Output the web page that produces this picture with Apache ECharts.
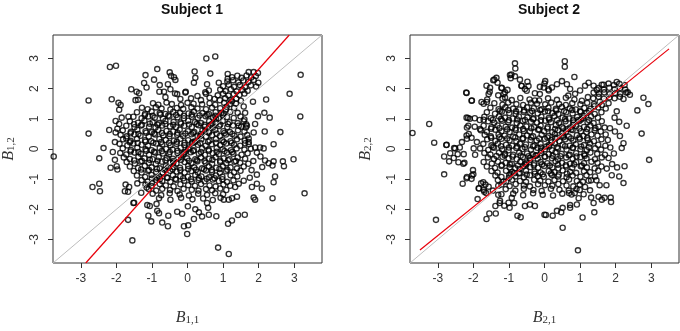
<!DOCTYPE html>
<html>
<head>
<meta charset="utf-8">
<script src="https://cdn.jsdelivr.net/npm/echarts@6/dist/echarts.min.js"></script>
<style>
html, body { margin: 0; padding: 0; background: #fff; }
#chart { width: 680px; height: 331px; }
</style>
</head>
<body>
<div id="chart"></div>
<script>
// axis values
var tickValues = [-3, -2, -1, 0, 1, 2, 3];
var axisMin = -3.78;
var axisMax = 3.78;
var panelTitles = ["Subject 1", "Subject 2"];

// reference lines
var identityLine = [[-3.78, -3.78], [3.78, 3.78]];
var subject1Fit = [[-2.86, -3.78], [2.86, 3.78]];
var subject2Fit = [[-3.5, -3.35], [3.5, 3.32]];

// subject 1: dense centre
var subject1Core = [
  [1.25,2.38],[1.4,2.43],[1.52,2.36],[1.66,2.44],[1.79,2.37],[1.92,2.42],
  [1.12,2.24],[1.28,2.28],[1.43,2.21],[1.57,2.27],[1.71,2.22],[1.86,2.29],[1.99,2.2],
  [1.0,2.08],[1.16,2.13],[1.31,2.06],[1.47,2.12],[1.62,2.05],[1.78,2.11],[1.93,2.07],
  [0.92,1.97],[1.07,1.92],[1.22,1.98],[1.38,1.91],[1.54,1.96],[1.69,1.93],
  [0.85,1.78],[1.0,1.83],[1.15,1.77],[1.3,1.82],[1.46,1.79],[1.6,1.84],
  [0.76,1.66],[0.91,1.62],[1.06,1.68],[1.21,1.63],[1.37,1.67],[1.5,1.6],
  [-0.35,1.84],[-0.05,1.9],[0.28,1.76],[0.5,1.88],[-0.62,1.72],[0.1,1.68],[0.38,1.62],[-0.2,1.66],[0.62,1.7],
  [-0.97,1.52],[-0.82,1.47],[-0.59,1.54],[-0.44,1.49],[-0.18,1.46],[0.0,1.53],[0.17,1.5],[0.41,1.48],[0.62,1.52],[0.78,1.47],[1.03,1.53],[1.19,1.49],[1.36,1.51],
  [-1.28,1.37],[-1.12,1.32],[-0.89,1.38],[-0.73,1.34],[-0.48,1.31],[-0.3,1.36],[-0.12,1.33],[0.11,1.38],[0.28,1.34],[0.52,1.32],[0.69,1.37],[0.92,1.35],[1.08,1.31],[1.31,1.36],
  [-1.42,1.22],[-1.19,1.17],[-1.01,1.24],[-0.78,1.19],[-0.62,1.16],[-0.4,1.23],[-0.21,1.2],[0.03,1.18],[0.18,1.24],[0.42,1.19],[0.6,1.16],[0.79,1.22],[1.02,1.18],[1.2,1.23],[1.41,1.2],
  [-1.52,1.07],[-1.29,1.02],[-1.1,1.08],[-0.92,1.04],[-0.69,1.01],[-0.51,1.08],[-0.28,1.05],[-0.1,1.02],[0.12,1.07],[0.29,1.03],[0.51,1.09],[0.72,1.04],[0.88,1.01],[1.11,1.06],[1.3,1.03],[1.49,1.08],
  [-1.62,0.92],[-1.39,0.87],[-1.21,0.94],[-0.98,0.89],[-0.8,0.86],[-0.62,0.93],[-0.39,0.9],[-0.2,0.88],[0.02,0.94],[0.21,0.89],[0.38,0.86],[0.61,0.92],[0.8,0.88],[0.99,0.93],[1.18,0.89],[1.41,0.86],[1.58,0.92],
  [-1.72,0.77],[-1.49,0.72],[-1.31,0.78],[-1.08,0.74],[-0.9,0.71],[-0.71,0.78],[-0.49,0.75],[-0.32,0.72],[-0.09,0.77],[0.12,0.73],[0.31,0.79],[0.48,0.74],[0.71,0.71],[0.89,0.76],[1.12,0.73],[1.28,0.78],[1.51,0.74],[1.64,0.71],
  [-1.82,0.62],[-1.59,0.57],[-1.41,0.64],[-1.18,0.59],[-1.0,0.56],[-0.82,0.63],[-0.59,0.6],[-0.4,0.58],[-0.22,0.64],[0.01,0.59],[0.19,0.56],[0.42,0.62],[0.6,0.58],[0.78,0.63],[1.01,0.59],[1.19,0.56],[1.42,0.62],[1.6,0.58],
  [-1.88,0.47],[-1.71,0.42],[-1.49,0.48],[-1.32,0.44],[-1.09,0.41],[-0.91,0.48],[-0.68,0.45],[-0.51,0.42],[-0.29,0.47],[-0.12,0.43],[0.11,0.49],[0.28,0.44],[0.52,0.41],[0.69,0.46],[0.91,0.43],[1.08,0.48],[1.32,0.44],[1.49,0.41],[1.68,0.46],
  [-1.81,0.32],[-1.6,0.27],[-1.42,0.34],[-1.19,0.29],[-1.02,0.26],[-0.79,0.33],[-0.61,0.3],[-0.38,0.28],[-0.2,0.34],[0.02,0.29],[0.21,0.26],[0.39,0.32],[0.62,0.28],[0.8,0.33],[0.98,0.29],[1.21,0.26],[1.39,0.32],[1.61,0.28],
  [-1.91,0.17],[-1.69,0.12],[-1.52,0.18],[-1.29,0.14],[-1.11,0.11],[-0.88,0.18],[-0.71,0.15],[-0.48,0.12],[-0.31,0.17],[-0.09,0.13],[0.12,0.19],[0.29,0.14],[0.51,0.11],[0.68,0.16],[0.92,0.13],[1.09,0.18],[1.31,0.14],[1.48,0.11],[1.72,0.16],
  [-1.82,0.02],[-1.59,-0.03],[-1.41,0.04],[-1.18,-0.01],[-1.01,-0.04],[-0.78,0.03],[-0.6,0.0],[-0.42,-0.02],[-0.19,0.04],[0.02,-0.01],[0.18,-0.04],[0.41,0.02],[0.59,-0.02],[0.82,0.03],[0.99,-0.01],[1.22,-0.04],[1.38,0.02],[1.6,-0.02],[1.78,0.01],
  [-1.89,-0.13],[-1.72,-0.18],[-1.49,-0.12],[-1.31,-0.16],[-1.08,-0.19],[-0.91,-0.12],[-0.69,-0.15],[-0.52,-0.18],[-0.28,-0.13],[-0.11,-0.17],[0.09,-0.11],[0.32,-0.16],[0.49,-0.19],[0.71,-0.14],[0.88,-0.17],[1.11,-0.12],[1.29,-0.16],[1.52,-0.19],[1.69,-0.14],
  [-1.79,-0.28],[-1.62,-0.33],[-1.38,-0.26],[-1.21,-0.31],[-0.98,-0.34],[-0.81,-0.27],[-0.58,-0.3],[-0.41,-0.32],[-0.18,-0.26],[-0.01,-0.31],[0.22,-0.34],[0.38,-0.28],[0.61,-0.32],[0.79,-0.27],[1.02,-0.31],[1.18,-0.34],[1.41,-0.28],[1.62,-0.32],
  [-1.71,-0.43],[-1.48,-0.48],[-1.32,-0.42],[-1.09,-0.46],[-0.89,-0.49],[-0.72,-0.42],[-0.48,-0.45],[-0.31,-0.48],[-0.08,-0.43],[0.11,-0.47],[0.28,-0.41],[0.51,-0.46],[0.69,-0.49],[0.92,-0.44],[1.09,-0.47],[1.32,-0.42],[1.48,-0.46],[1.71,-0.49],
  [-1.62,-0.58],[-1.39,-0.63],[-1.2,-0.56],[-1.01,-0.61],[-0.78,-0.64],[-0.61,-0.57],[-0.39,-0.6],[-0.21,-0.62],[0.02,-0.56],[0.19,-0.61],[0.41,-0.64],[0.6,-0.58],[0.81,-0.62],[0.99,-0.57],[1.21,-0.61],[1.39,-0.64],[1.58,-0.58],
  [-1.51,-0.73],[-1.29,-0.78],[-1.11,-0.72],[-0.88,-0.76],[-0.7,-0.79],[-0.49,-0.72],[-0.31,-0.75],[-0.08,-0.78],[0.11,-0.73],[0.29,-0.77],[0.52,-0.71],[0.69,-0.76],[0.91,-0.79],[1.08,-0.74],[1.31,-0.77],[1.49,-0.72],
  [-1.42,-0.88],[-1.19,-0.93],[-1.01,-0.86],[-0.8,-0.91],[-0.58,-0.94],[-0.41,-0.87],[-0.2,-0.9],[0.01,-0.92],[0.22,-0.86],[0.39,-0.91],[0.61,-0.94],[0.8,-0.88],[0.98,-0.92],[1.21,-0.87],[1.4,-0.91],
  [-1.29,-1.03],[-1.12,-1.08],[-0.89,-1.02],[-0.71,-1.06],[-0.48,-1.09],[-0.32,-1.02],[-0.09,-1.05],[0.12,-1.08],[0.31,-1.03],[0.48,-1.07],[0.71,-1.01],[0.88,-1.06],[1.11,-1.09],[1.29,-1.04],
  [-1.18,-1.18],[-1.01,-1.23],[-0.78,-1.16],[-0.61,-1.21],[-0.39,-1.24],[-0.2,-1.17],[0.02,-1.2],[0.21,-1.22],[0.38,-1.16],[0.62,-1.21],[0.79,-1.24],[1.01,-1.18],[1.2,-1.22],
  [-1.09,-1.33],[-0.88,-1.38],[-0.71,-1.32],[-0.49,-1.36],[-0.28,-1.39],[-0.11,-1.32],[0.12,-1.35],[0.31,-1.38],[0.52,-1.33],[0.69,-1.37],[0.92,-1.31],[1.09,-1.36],
  [-0.98,-1.48],[-0.74,-1.53],[-0.5,-1.47],[-0.22,-1.51],[0.04,-1.54],[0.3,-1.48],[0.55,-1.52],[0.78,-1.47],[1.0,-1.5],
  [-0.8,-1.63],[-0.48,-1.68],[-0.18,-1.62],[0.14,-1.67],[0.44,-1.64],[0.71,-1.69],[0.93,-1.62],
  [-1.3,-1.45],[-1.15,-1.28],[-1.0,-1.12],[-0.85,-0.95],[-0.7,-0.78],[-0.55,-0.62],[-0.4,-0.45],[-0.25,-0.3],[-0.1,-0.12],[0.05,0.05],[0.2,0.22],[0.35,0.42],[0.5,0.6],[0.65,0.8],[0.8,1.0],[0.95,1.2],[1.1,1.4],[1.25,1.58]
];

// subject 1: the darkest middle part, between the rows above
var subject1Inner = [
  [-1.2,1.12],[-0.98,1.1],[-0.76,1.14],[-0.54,1.11],[-0.32,1.13],[-0.1,1.1],[0.12,1.14],[0.34,1.11],[0.56,1.13],[0.78,1.1],[1.0,1.12],
  [-1.5,0.82],[-1.28,0.8],[-1.06,0.84],[-0.84,0.81],[-0.62,0.83],[-0.4,0.8],[-0.18,0.84],[0.04,0.81],[0.26,0.83],[0.48,0.8],[0.7,0.84],[0.92,0.81],[1.14,0.83],
  [-1.6,0.52],[-1.38,0.5],[-1.16,0.54],[-0.94,0.51],[-0.72,0.53],[-0.5,0.5],[-0.28,0.54],[-0.06,0.51],[0.16,0.53],[0.38,0.5],[0.6,0.54],[0.82,0.51],[1.04,0.53],[1.26,0.5],
  [-1.62,0.22],[-1.4,0.2],[-1.18,0.24],[-0.96,0.21],[-0.74,0.23],[-0.52,0.2],[-0.3,0.24],[-0.08,0.21],[0.14,0.23],[0.36,0.2],[0.58,0.24],[0.8,0.21],[1.02,0.23],[1.24,0.2],
  [-1.6,-0.08],[-1.38,-0.1],[-1.16,-0.06],[-0.94,-0.09],[-0.72,-0.07],[-0.5,-0.1],[-0.28,-0.06],[-0.06,-0.09],[0.16,-0.07],[0.38,-0.1],[0.6,-0.06],[0.82,-0.09],[1.04,-0.07],[1.26,-0.1],
  [-1.5,-0.38],[-1.28,-0.4],[-1.06,-0.36],[-0.84,-0.39],[-0.62,-0.37],[-0.4,-0.4],[-0.18,-0.36],[0.04,-0.39],[0.26,-0.37],[0.48,-0.4],[0.7,-0.36],[0.92,-0.39],[1.14,-0.37],[1.36,-0.4],
  [-1.3,-0.68],[-1.08,-0.7],[-0.86,-0.66],[-0.64,-0.69],[-0.42,-0.67],[-0.2,-0.7],[0.02,-0.66],[0.24,-0.69],[0.46,-0.67],[0.68,-0.7],[0.9,-0.66],[1.12,-0.69],
  [-1.0,-0.98],[-0.78,-1.0],[-0.56,-0.96],[-0.34,-0.99],[-0.12,-0.97],[0.1,-1.0],[0.32,-0.96],[0.54,-0.99],[0.76,-0.97],[0.98,-1.0]
];

// subject 1: scattered points outside the centre
var subject1Outer = [
  [0.53,3.0],[0.78,3.07],[-2.18,2.72],[-2.01,2.76],[-0.85,2.65],[-1.18,2.45],[-0.5,2.54],[-0.46,2.43],[-0.38,2.38],[-0.34,2.29],
  [0.2,2.57],[0.22,2.36],[0.18,2.2],[0.64,2.5],[0.55,2.15],[0.6,1.94],[0.52,1.83],[0.88,2.2],[1.13,2.49],[1.13,2.33],
  [1.72,2.55],[1.86,2.55],[1.98,2.52],[3.18,2.46],[2.87,1.83],[2.21,1.64],[3.17,1.08],[2.16,1.2],[2.31,1.04],[1.98,1.09],
  [1.84,1.57],[2.17,0.58],[2.61,0.56],[2.42,0.16],[1.9,0.05],[2.04,0.05],[1.58,1.41],[1.62,1.2],[1.6,0.98],[1.44,0.77],
  [1.67,0.77],[1.9,0.83],[1.72,0.35],[1.62,0.19],[1.65,0.82],[1.86,0.55],[1.72,0.23],[2.14,0.02],
  [-1.58,1.98],[-1.36,1.85],[-1.15,2.04],[-0.79,1.9],[-0.55,2.15],[-0.48,1.98],[-2.78,1.61],[-2.13,1.65],[-1.94,1.53],[-1.46,1.62],
  [-2.78,0.51],[-2.2,0.63],[-2.36,0.03],[-0.06,1.87],[-1.88,1.46],[-1.92,1.3],[-1.85,1.04],[-1.92,0.83],[-1.97,0.67],[-2.02,0.93],
  [-1.72,0.35],[-1.66,1.07],[-1.39,1.63],[-2.02,0.55],[-2.04,0.23],[-1.43,1.9],[-1.22,2.19],[-0.94,2.3],[-0.78,2.12],[-0.66,1.9],
  [-0.29,1.82],[-2.1,-0.1],
  [-3.76,-0.25],[-2.48,-0.31],[-2.04,-0.36],[-1.99,-0.57],[-2.16,-0.62],[-1.97,-0.68],[-2.67,-1.26],[-2.48,-1.15],[-2.46,-1.4],
  [-1.74,-1.18],[-1.64,-1.26],[-1.76,-1.4],[-1.67,-1.42],[-1.52,-1.79],[-1.67,-2.35],[-1.55,-3.03],[-1.1,-2.21],[-1.02,-2.4],
  [-0.71,-2.44],[-0.55,-2.56],[-0.85,-2.05],[-0.8,-2.13],[-0.54,-2.21],[-0.29,-2.08],[-0.1,-2.56],[-0.01,-2.82],[-1.13,-1.86],
  [-1.06,-1.89],[-0.87,-1.82],[0.01,-1.9],[-1.41,-1.14],[-1.5,-1.78],[-0.15,-2.15],
  [2.68,-0.41],[2.71,-0.57],[2.98,-0.34],[2.18,-0.38],[2.28,-0.47],[2.42,-0.41],[2.39,-0.55],[2.46,-0.91],[2.42,-1.1],
  [3.29,-1.47],[2.39,-1.63],[1.86,-1.61],[1.9,-1.68],[2.09,-1.31],[1.95,-1.15],[1.81,-1.26],[1.58,-1.05],[1.44,-1.15],
  [1.34,-1.26],[1.39,-1.58],[1.25,-1.63],[1.16,-1.68],[1.02,-1.68],[1.61,-2.18],[1.42,-2.19],[1.14,-2.48],[1.25,-2.37],
  [0.86,-3.27],[1.16,-3.48],[0.81,-2.23],[0.6,-2.18],[0.41,-2.24],[0.18,-2.32],[0.32,-2.1],[0.22,-2.0],[0.02,-2.53],
  [0.55,-1.79],[0.58,-1.95],[1.95,-0.12],[2.05,-0.25],[1.85,-0.4],[1.8,-0.7],[1.95,-0.85],[2.1,-0.6],[1.75,-0.95]
];

// subject 2: dense centre
var subject2Core = [
  [1.66,2.13],[1.8,2.17],[1.95,2.12],[2.1,2.16],[2.25,2.12],
  [1.52,2.02],[1.67,1.97],[1.82,2.03],[1.97,1.98],[2.12,2.02],[2.27,1.97],
  [1.38,1.87],[1.53,1.83],[1.68,1.88],[1.83,1.82],[1.98,1.86],[2.13,1.83],[2.3,1.87],[2.4,1.8],
  [1.22,1.72],[1.37,1.68],[1.52,1.73],[1.67,1.67],[1.82,1.71],[1.97,1.68],[2.12,1.73],[2.22,1.66],
  [-1.18,1.67],[-0.92,1.62],[-0.68,1.69],[-0.42,1.64],[-0.15,1.61],[0.1,1.68],[0.35,1.63],[0.6,1.7],[0.84,1.64],[1.05,1.6],
  [-1.41,1.52],[-1.18,1.47],[-1.02,1.54],[-0.79,1.49],[-0.6,1.46],[-0.38,1.53],[-0.21,1.5],[0.02,1.48],[0.19,1.54],[0.41,1.49],[0.6,1.46],[0.78,1.52],[1.01,1.48],[1.2,1.53],[1.39,1.49],[1.61,1.46],[1.8,1.52],
  [-1.52,1.37],[-1.29,1.32],[-1.1,1.38],[-0.88,1.34],[-0.71,1.31],[-0.49,1.38],[-0.3,1.35],[-0.08,1.32],[0.11,1.37],[0.32,1.33],[0.49,1.39],[0.71,1.34],[0.88,1.31],[1.12,1.36],[1.29,1.33],[1.51,1.38],[1.72,1.34],
  [-1.62,1.22],[-1.39,1.17],[-1.2,1.24],[-0.99,1.19],[-0.81,1.16],[-0.58,1.23],[-0.4,1.2],[-0.19,1.18],[0.01,1.24],[0.22,1.19],[0.39,1.16],[0.61,1.22],[0.79,1.18],[1.02,1.23],[1.18,1.19],[1.41,1.16],[1.6,1.22],
  [-1.69,1.07],[-1.51,1.02],[-1.28,1.08],[-1.11,1.04],[-0.89,1.01],[-0.72,1.08],[-0.48,1.05],[-0.31,1.02],[-0.09,1.07],[0.12,1.03],[0.28,1.09],[0.51,1.04],[0.69,1.01],[0.92,1.06],[1.08,1.03],[1.31,1.08],[1.5,1.04],
  [-1.58,0.92],[-1.41,0.87],[-1.19,0.94],[-1.02,0.89],[-0.78,0.86],[-0.61,0.93],[-0.38,0.9],[-0.21,0.88],[0.02,0.94],[0.18,0.89],[0.41,0.86],[0.59,0.92],[0.82,0.88],[0.98,0.93],[1.21,0.89],[1.38,0.86],[1.61,0.92],
  [-1.71,0.77],[-1.49,0.72],[-1.32,0.78],[-1.09,0.74],[-0.91,0.71],[-0.68,0.78],[-0.51,0.75],[-0.29,0.72],[-0.11,0.77],[0.09,0.73],[0.32,0.79],[0.49,0.74],[0.72,0.71],[0.89,0.76],[1.11,0.73],[1.29,0.78],[1.52,0.74],[1.69,0.71],
  [-1.79,0.62],[-1.62,0.57],[-1.38,0.64],[-1.21,0.59],[-0.98,0.56],[-0.81,0.63],[-0.58,0.6],[-0.41,0.58],[-0.18,0.64],[-0.01,0.59],[0.22,0.56],[0.38,0.62],[0.61,0.58],[0.79,0.63],[1.02,0.59],[1.18,0.56],[1.41,0.62],[1.58,0.58],
  [-1.68,0.47],[-1.51,0.42],[-1.29,0.48],[-1.12,0.44],[-0.88,0.41],[-0.71,0.48],[-0.49,0.45],[-0.32,0.42],[-0.08,0.47],[0.11,0.43],[0.29,0.49],[0.52,0.44],[0.68,0.41],[0.91,0.46],[1.09,0.43],[1.32,0.48],[1.49,0.44],
  [-1.61,0.32],[-1.38,0.27],[-1.21,0.34],[-0.98,0.29],[-0.79,0.26],[-0.62,0.33],[-0.39,0.3],[-0.22,0.28],[0.01,0.34],[0.19,0.29],[0.42,0.26],[0.58,0.32],[0.81,0.28],[0.99,0.33],[1.22,0.29],[1.39,0.26],[1.6,0.32],
  [-1.72,0.17],[-1.49,0.12],[-1.31,0.18],[-1.08,0.14],[-0.91,0.11],[-0.69,0.18],[-0.52,0.15],[-0.28,0.12],[-0.11,0.17],[0.12,0.13],[0.29,0.19],[0.51,0.14],[0.71,0.11],[0.88,0.16],[1.11,0.13],[1.28,0.18],[1.51,0.14],[1.71,0.11],
  [-1.81,0.02],[-1.58,-0.03],[-1.42,0.04],[-1.19,-0.01],[-1.01,-0.04],[-0.79,0.03],[-0.62,0.0],[-0.38,-0.02],[-0.2,0.04],[0.01,-0.01],[0.21,-0.04],[0.38,0.02],[0.62,-0.02],[0.79,0.03],[1.01,-0.01],[1.19,-0.04],[1.42,0.02],[1.59,-0.02],
  [-1.69,-0.13],[-1.52,-0.18],[-1.28,-0.12],[-1.11,-0.16],[-0.88,-0.19],[-0.71,-0.12],[-0.49,-0.15],[-0.32,-0.18],[-0.09,-0.13],[0.12,-0.17],[0.31,-0.11],[0.48,-0.16],[0.71,-0.19],[0.89,-0.14],[1.12,-0.17],[1.29,-0.12],[1.48,-0.16],[1.7,-0.19],
  [-1.59,-0.28],[-1.42,-0.33],[-1.18,-0.26],[-1.01,-0.31],[-0.78,-0.34],[-0.61,-0.27],[-0.41,-0.3],[-0.19,-0.32],[0.02,-0.26],[0.21,-0.31],[0.38,-0.34],[0.61,-0.28],[0.79,-0.32],[1.01,-0.27],[1.18,-0.31],[1.42,-0.34],[1.61,-0.28],
  [-1.71,-0.43],[-1.48,-0.48],[-1.31,-0.42],[-1.09,-0.46],[-0.92,-0.49],[-0.68,-0.42],[-0.51,-0.45],[-0.29,-0.48],[-0.11,-0.43],[0.08,-0.47],[0.31,-0.41],[0.49,-0.46],[0.72,-0.49],[0.89,-0.44],[1.11,-0.47],[1.32,-0.42],[1.49,-0.46],
  [-1.62,-0.58],[-1.39,-0.63],[-1.21,-0.56],[-0.98,-0.61],[-0.82,-0.64],[-0.59,-0.57],[-0.4,-0.6],[-0.18,-0.62],[-0.01,-0.56],[0.22,-0.61],[0.39,-0.64],[0.61,-0.58],[0.78,-0.62],[1.02,-0.57],[1.19,-0.61],[1.41,-0.64],[1.6,-0.58],
  [-1.49,-0.73],[-1.32,-0.78],[-1.08,-0.72],[-0.91,-0.76],[-0.69,-0.79],[-0.52,-0.72],[-0.28,-0.75],[-0.11,-0.78],[0.12,-0.73],[0.28,-0.77],[0.51,-0.71],[0.72,-0.76],[0.89,-0.79],[1.11,-0.74],[1.28,-0.77],[1.51,-0.72],
  [-1.38,-0.88],[-1.21,-0.93],[-0.99,-0.86],[-0.82,-0.91],[-0.58,-0.94],[-0.41,-0.87],[-0.19,-0.9],[-0.02,-0.92],[0.21,-0.86],[0.38,-0.91],[0.62,-0.94],[0.79,-0.88],[1.01,-0.92],[1.18,-0.87],[1.42,-0.91],
  [-1.31,-1.03],[-1.08,-1.08],[-0.91,-1.02],[-0.69,-1.06],[-0.52,-1.09],[-0.29,-1.02],[-0.12,-1.05],[0.11,-1.08],[0.28,-1.03],[0.52,-1.07],[0.69,-1.01],[0.91,-1.06],[1.08,-1.09],[1.31,-1.04],
  [-1.21,-1.18],[-0.98,-1.23],[-0.81,-1.16],[-0.58,-1.21],[-0.41,-1.24],[-0.18,-1.17],[0.01,-1.2],[0.22,-1.22],[0.39,-1.16],[0.62,-1.21],[0.81,-1.24],[0.99,-1.18],
  [-1.09,-1.33],[-0.82,-1.38],[-0.58,-1.32],[-0.31,-1.36],[-0.08,-1.39],[0.18,-1.32],[0.42,-1.35],[0.68,-1.38],[0.9,-1.33],
  [-0.88,-1.48],[-0.6,-1.53],[-0.32,-1.47],[-0.05,-1.52],[0.24,-1.54],[0.5,-1.48],[0.76,-1.51],
  [-1.45,-1.38],[-1.3,-1.22],[-1.15,-1.08],[-1.0,-0.95],[-0.85,-0.8],[-0.7,-0.66],[-0.55,-0.5],[-0.4,-0.36],[-0.25,-0.22],[-0.1,-0.06],
  [0.05,0.08],[0.2,0.22],[0.35,0.38],[0.5,0.52],[0.65,0.66],[0.8,0.8],[0.95,0.96],[1.1,1.1],[1.25,1.26],[1.4,1.42],[1.55,1.56]
];

// subject 2: the darkest middle part, between the rows above
var subject2Inner = [
  [-1.25,1.27],[-1.02,1.29],[-0.8,1.25],[-0.57,1.28],[-0.35,1.26],[-0.12,1.29],[0.1,1.25],[0.33,1.28],[0.55,1.26],[0.78,1.29],[1.0,1.25],
  [-1.45,0.97],[-1.22,0.99],[-1.0,0.95],[-0.77,0.98],[-0.55,0.96],[-0.32,0.99],[-0.1,0.95],[0.13,0.98],[0.35,0.96],[0.58,0.99],[0.8,0.95],[1.03,0.98],[1.25,0.96],
  [-1.5,0.67],[-1.27,0.69],[-1.05,0.65],[-0.82,0.68],[-0.6,0.66],[-0.37,0.69],[-0.15,0.65],[0.08,0.68],[0.3,0.66],[0.53,0.69],[0.75,0.65],[0.98,0.68],[1.2,0.66],[1.43,0.69],
  [-1.5,0.37],[-1.27,0.39],[-1.05,0.35],[-0.82,0.38],[-0.6,0.36],[-0.37,0.39],[-0.15,0.35],[0.08,0.38],[0.3,0.36],[0.53,0.39],[0.75,0.35],[0.98,0.38],[1.2,0.36],
  [-1.45,0.07],[-1.22,0.09],[-1.0,0.05],[-0.77,0.08],[-0.55,0.06],[-0.32,0.09],[-0.1,0.05],[0.13,0.08],[0.35,0.06],[0.58,0.09],[0.8,0.05],[1.03,0.08],[1.25,0.06],
  [-1.35,-0.23],[-1.12,-0.21],[-0.9,-0.25],[-0.67,-0.22],[-0.45,-0.24],[-0.22,-0.21],[0.0,-0.25],[0.23,-0.22],[0.45,-0.24],[0.68,-0.21],[0.9,-0.25],[1.13,-0.22],
  [-1.2,-0.53],[-0.97,-0.51],[-0.75,-0.55],[-0.52,-0.52],[-0.3,-0.54],[-0.07,-0.51],[0.15,-0.55],[0.38,-0.52],[0.6,-0.54],[0.83,-0.51],[1.05,-0.55],
  [-0.95,-0.83],[-0.72,-0.81],[-0.5,-0.85],[-0.27,-0.82],[-0.05,-0.84],[0.18,-0.81],[0.4,-0.85],[0.63,-0.82]
];

// subject 2: scattered points outside the centre
var subject2Outer = [
  [-3.71,0.53],[-3.24,0.83],[-3.1,0.21],[-2.75,0.14],[-2.54,0.03],[-2.38,0.05],[-2.19,1.86],[-2.05,1.6],[-1.77,1.56],[-1.63,2.1],
  [-1.54,1.9],[-1.61,1.64],[-1.44,2.28],[-1.35,2.36],[-1.32,2.2],[-1.21,2.02],[-1.11,1.88],[-1.04,1.96],[-1.3,1.78],[-0.83,2.84],
  [-0.82,2.67],[-0.93,2.47],[-0.83,2.41],[-0.65,2.1],[-0.55,1.99],[-0.48,2.23],[-0.27,1.85],[-0.13,2.06],[0.0,2.17],[-2.19,1.04],
  [-2.1,1.0],[-1.96,1.02],[-1.82,0.96],[-2.14,0.77],[-1.96,0.74],[-2.19,0.45],[-2.05,0.37],
  [0.57,2.91],[0.57,2.73],[0.84,2.39],[1.24,2.2],[1.38,2.1],[1.47,1.96],[1.61,2.13],[2.03,2.22],[2.34,1.88],[2.78,1.7],
  [2.92,1.49],[2.61,1.28],[2.03,1.25],[1.97,1.04],[2.1,0.9],[2.31,0.77],[1.84,0.69],[1.98,0.58],[2.73,0.51],[2.12,0.43],
  [2.22,0.19],[2.17,0.03],[1.14,2.1],[1.0,1.94],[0.86,1.83],[0.72,1.99],[0.63,2.15],[0.49,2.25],[0.35,2.15],[0.21,2.04],
  [0.12,1.94],[0.02,2.25],[-0.02,2.04],[0.11,1.98],[0.67,1.77],[-0.13,1.82],[-0.27,1.61],[-0.45,2.09],[-0.5,1.93],[-0.69,2.3],
  [-0.64,2.09],[-0.97,2.45],[-0.95,2.35],[-1.2,2.03],[-1.15,1.82],[-1.11,1.71],[-1.41,2.3],[-1.57,1.82],[-1.53,2.03],[-1.62,1.56],
  [-1.71,1.5],[-1.81,0.66],[-1.71,0.97],[-2.18,0.71],[-2.15,1.03],[-2.04,1.61],[-2.2,1.87],[-1.9,0.23],[-1.99,0.02],[-1.95,-0.19],
  [-2.32,0.23],[-2.18,0.34],[-2.13,0.5],
  [-2.82,-0.25],[-2.68,-0.41],[-2.44,-0.17],[-2.28,-0.49],[-2.42,-0.44],[-2.82,-0.84],[-2.3,-1.15],[-2.19,-0.97],[-2.05,-0.99],
  [-2.0,-0.84],[-1.88,-1.66],[-1.84,-1.31],[-1.72,-1.1],[-1.66,-1.18],[-1.69,-1.42],[-1.55,-2.14],[-1.37,-2.14],[-1.63,-2.32],
  [-1.38,-1.89],[-1.26,-1.79],[-1.3,-1.52],[-1.21,-1.5],[-0.98,-1.95],[-0.85,-1.79],[-0.76,-2.21],[-0.67,-2.26],[-0.55,-1.89],
  [-0.41,-1.84],[-0.27,-1.89],[-3.05,-2.35],[0.0,-2.18],[-2.65,-0.14],[-2.55,-0.3],[-2.51,0.02],[-2.76,0.13],[-2.27,-0.17],
  [-2.25,-0.46],[-2.01,-0.7],[-2.04,-0.88],[-2.18,-0.93],[-1.78,-1.14],[-1.85,-1.3],[-1.57,-1.25],[-1.64,-1.46],[-1.71,-1.36],
  [-1.01,-1.78],[-0.92,-1.62],[-1.25,-1.72],[-1.13,-1.88],
  [2.94,-0.36],[2.25,-0.57],[2.22,-1.13],[2.1,-0.91],[1.89,-0.87],[2.04,-0.61],[1.86,-1.61],[1.87,-1.76],[1.61,-1.68],
  [1.52,-1.58],[1.38,-1.79],[1.31,-1.61],[1.4,-2.1],[1.07,-2.27],[0.51,-2.61],[0.94,-3.36],[0.04,-2.19],[0.23,-2.21],
  [0.35,-2.05],[0.47,-2.1],[0.51,-1.95],[0.72,-1.95],[0.72,-1.86],[0.91,-1.84],[0.96,-1.63],[1.14,-1.26],[1.28,-1.37],
  [1.1,-1.5],[1.24,-1.05],[1.74,-1.2],[1.55,-1.2],[1.46,-1.04],[1.69,-1.62],[0.85,-1.46],[0.69,-1.46],[0.99,-1.36],
  [1.8,-0.3],[1.9,-0.5],[1.75,-0.65],[1.85,0.05],[1.95,-0.15],[1.78,0.3],[1.72,0.48]
];

var chart = echarts.init(document.getElementById("chart"), null, { renderer: "canvas" });

var tickFont = { fontFamily: "Liberation Sans, Arial, sans-serif", fontSize: 12, color: "#333" };
var labelRich = {
	b: { fontFamily: "Liberation Serif, serif", fontStyle: "italic", fontSize: 16, color: "#333", verticalAlign: "bottom", lineHeight: 18 },
	s: { fontFamily: "Liberation Serif, serif", fontSize: 11, color: "#333", verticalAlign: "bottom", lineHeight: 11 },
};

function makeXAxis(idx, sub) {
	return {
		gridIndex: idx,
		type: "value",
		min: axisMin,
		max: axisMax,
		name: "{b|B}{s|" + sub + "}",
		nameLocation: "middle",
		nameGap: 45,
		nameTextStyle: { rich: labelRich },
		axisLine: { show: false, onZero: false },
		axisTick: { show: true, length: 5, customValues: tickValues, lineStyle: { color: "#333" } },
		axisLabel: Object.assign({ margin: 10, customValues: tickValues }, tickFont),
		splitLine: { show: false },
	};
}

function makeYAxis(idx, sub) {
	return {
		gridIndex: idx,
		type: "value",
		min: axisMin,
		max: axisMax,
		name: "{b|B}{s|" + sub + "}",
		nameLocation: "middle",
		nameRotate: 90,
		nameGap: 36,
		nameTextStyle: { rich: labelRich },
		axisLine: { show: false, onZero: false },
		axisTick: { show: true, length: 5, customValues: tickValues, lineStyle: { color: "#333" } },
		axisLabel: Object.assign({ margin: 12, rotate: 90, customValues: tickValues }, tickFont),
		splitLine: { show: false },
	};
}

function pointSeries(idx, data) {
	return {
		type: "scatter",
		xAxisIndex: idx,
		yAxisIndex: idx,
		data: data,
		symbol: "circle",
		symbolSize: 5.2,
		silent: true,
		z: 2,
		itemStyle: { color: "rgba(0,0,0,0)", borderColor: "#000", borderWidth: 1.35 },
	};
}

function lineSeries(idx, data, color, width) {
	return {
		type: "line",
		xAxisIndex: idx,
		yAxisIndex: idx,
		data: data,
		symbol: "none",
		silent: true,
		z: 3,
		lineStyle: { color: color, width: width },
	};
}

var titleStyle = { fontFamily: "Liberation Sans, Arial, sans-serif", fontSize: 14, fontWeight: "bold", color: "#111" };

var option = {
	animation: false,
	backgroundColor: "#fff",
	title: [
		{ text: panelTitles[0], left: 187, top: -2, textAlign: "center", textStyle: titleStyle },
		{ text: panelTitles[1], left: 544, top: -2, textAlign: "center", textStyle: titleStyle },
	],
	grid: [
		{ left: 52, top: 35, width: 270, height: 238, show: true, borderColor: "#333", borderWidth: 1, backgroundColor: "transparent" },
		{ left: 410, top: 35, width: 269, height: 238, show: true, borderColor: "#333", borderWidth: 1, backgroundColor: "transparent" },
	],
	xAxis: [makeXAxis(0, "1,1"), makeXAxis(1, "2,1")],
	yAxis: [makeYAxis(0, "1,2"), makeYAxis(1, "2,2")],
	series: [
		pointSeries(0, subject1Core.concat(subject1Inner, subject1Outer)),
		lineSeries(0, identityLine, "#bdbdbd", 1),
		lineSeries(0, subject1Fit, "#e8000b", 1.2),
		pointSeries(1, subject2Core.concat(subject2Inner, subject2Outer)),
		lineSeries(1, identityLine, "#bdbdbd", 1),
		lineSeries(1, subject2Fit, "#e8000b", 1.2),
	],
};

chart.setOption(option);
</script>
</body>
</html>
